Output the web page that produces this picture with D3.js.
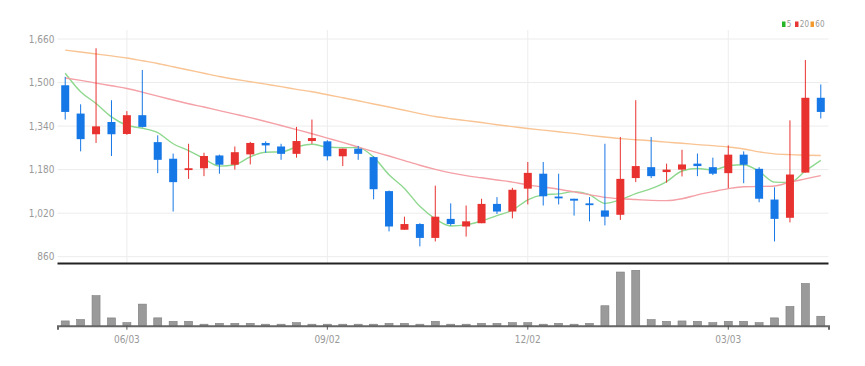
<!DOCTYPE html>
<html>
<head>
    <meta charset="utf-8">
    <title>Weekly Candles</title>
    <script src="https://d3js.org/d3.v7.min.js"></script>
    <style>
        body { margin: 0; background: #fff; }
        text { font-family: "Liberation Sans Narrow", "DejaVu Sans Condensed", sans-serif; }
    </style>
</head>
<body>
    <div id="chart"></div>
    <script>
        // weekly data, one row per week
        var dates = ["2024-05-06","2024-05-13","2024-05-20","2024-05-27","2024-06-03","2024-06-10","2024-06-17","2024-06-24","2024-07-01","2024-07-08",
                     "2024-07-15","2024-07-22","2024-07-29","2024-08-05","2024-08-12","2024-08-19","2024-08-26","2024-09-02","2024-09-09","2024-09-16",
                     "2024-09-23","2024-09-30","2024-10-07","2024-10-14","2024-10-21","2024-10-28","2024-11-04","2024-11-11","2024-11-18","2024-11-25",
                     "2024-12-02","2024-12-09","2024-12-16","2024-12-23","2024-12-30","2025-01-06","2025-01-13","2025-01-20","2025-01-27","2025-02-03",
                     "2025-02-10","2025-02-17","2025-02-24","2025-03-03","2025-03-10","2025-03-17","2025-03-24","2025-03-31","2025-04-07","2025-04-14"];
        var open  = [1490,1386,1310,1355,1311,1380,1281,1220,1181,1185,1232,1198,1236,1278,1265,1238,1285,1284,1229,1257,
                     1226,1101,959,980,929,999,971,983,1054,1026,1110,1165,1081,1073,1056,1030,1014,1149,1189,1171,
                     1180,1202,1189,1167,1235,1183,1070,1003,1169,1444];
        var high  = [1521,1420,1626,1435,1395,1546,1306,1239,1275,1242,1235,1265,1282,1284,1275,1337,1364,1288,1257,1267,
                     1229,1103,1007,983,1121,1056,1048,1073,1079,1113,1208,1208,1165,1073,1079,1275,1300,1435,1300,1202,
                     1253,1239,1224,1269,1247,1189,1115,1361,1583,1493];
        var low   = [1364,1247,1278,1230,1308,1335,1167,1026,1146,1156,1165,1180,1199,1242,1216,1224,1275,1214,1193,1216,
                     1071,953,959,898,916,974,934,983,1017,1001,1052,1048,1052,1011,990,975,995,1134,1149,1132,
                     1155,1156,1160,1112,1130,1060,916,986,1169,1368];
        var close = [1392,1292,1339,1310,1380,1337,1216,1134,1185,1230,1198,1244,1278,1269,1238,1285,1296,1229,1257,1238,
                     1108,971,980,929,1007,980,990,1054,1026,1106,1168,1082,1075,1066,1050,1007,1146,1193,1156,1180,
                     1199,1193,1165,1235,1198,1073,999,1162,1444,1392];
        var volume = [94200,121500,593800,153600,60400,426300,154900,86100,85700,20300,46200,45800,46500,20100,19800,60200,20400,19600,20200,20500,
                      19900,46100,45600,20300,86400,19700,20100,46300,45900,60300,59800,20200,46400,19800,45700,394100,1060200,1094300,120400,86200,
                      93800,86500,60100,85900,86300,59700,154200,380400,834100,186200];
        var ma5  = [1534,1466,1423,1374,1343,1332,1316,1275,1250,1220,1193,1198,1227,1244,1245,1263,1273,1263,1261,1261,
                    1226,1161,1111,1045,999,973,977,992,1011,1031,1069,1087,1091,1099,1088,1056,1069,1092,1110,1136,
                    1175,1184,1179,1194,1198,1173,1134,1133,1175,1214];
        var ma20 = [1517,1508,1498,1488,1478,1465,1450,1436,1422,1410,1397,1384,1371,1357,1342,1327,1312,1296,1280,1263,
                    1246,1230,1213,1196,1181,1168,1158,1150,1142,1134,1124,1116,1108,1098,1088,1078,1073,1070,1067,1066,
                    1073,1087,1099,1110,1117,1118,1120,1134,1146,1158];
        var ma60 = [1619,1612,1605,1598,1590,1580,1570,1558,1546,1534,1522,1512,1503,1494,1485,1475,1466,1455,1444,1433,
                    1421,1410,1398,1386,1375,1367,1360,1353,1345,1338,1331,1325,1319,1313,1306,1300,1294,1290,1286,1281,
                    1277,1272,1268,1263,1256,1245,1238,1235,1233,1232];
        var priceTicks = [860,1020,1180,1340,1500,1660];
        var dateTicks = ["2024-06-03","2024-09-02","2024-12-02","2025-03-03"];
        var dateTickLabels = ["06/03","09/02","12/02","03/03"];
        var maNames = ["5","20","60"];

        var width = 865, height = 366;
        var left = 57.5, right = 828.5;
        var upColor = "#e8322f", downColor = "#1677e6";
        var maColors = ["#8fd88f", "#f4a0a6", "#f9c494"];
        var legendColors = ["#26b526", "#e83535", "#f29a2e"];

        var svg = d3.select("#chart")
            .append("svg")
            .attr("width", width)
            .attr("height", height);

        var x = d3.scaleBand()
            .domain(dates)
            .range([left, right]);
        function cx(d) { return x(d) + x.bandwidth() / 2; }

        var y = d3.scaleLinear()
            .domain([860, 1660])
            .range([256.7, 39]);

        var yVol = d3.scaleLinear()
            .domain([0, 1140000])
            .range([325.7, 268]);

        // grid
        svg.append("g").selectAll("line")
            .data(priceTicks)
            .enter()
            .append("line")
            .attr("x1", left).attr("x2", right)
            .attr("y1", function(d) { return y(d); })
            .attr("y2", function(d) { return y(d); })
            .attr("stroke", "#ececec");

        svg.append("g").selectAll("line")
            .data(dateTicks)
            .enter()
            .append("line")
            .attr("x1", function(d) { return cx(d); })
            .attr("x2", function(d) { return cx(d); })
            .attr("y1", 30).attr("y2", 263)
            .attr("stroke", "#ededed");

        // y axis labels
        var yAxis = d3.axisLeft(y).tickValues(priceTicks).tickSize(0).tickPadding(3).tickFormat(d3.format(","));
        svg.append("g")
            .attr("transform", "translate(" + left + ",0)")
            .call(yAxis)
            .call(function(g) { g.select(".domain").remove(); })
            .selectAll("text")
            .attr("fill", "#999")
            .style("font-size", "10px");

        // moving averages
        [ma5, ma20, ma60].forEach(function(series, k) {
            var line = d3.line()
                .x(function(d, i) { return cx(dates[i]); })
                .y(function(d) { return y(d); })
                .curve(d3.curveMonotoneX);
            svg.append("path")
                .datum(series)
                .attr("d", line)
                .attr("fill", "none")
                .attr("stroke", maColors[k])
                .attr("stroke-width", 1.4);
        });

        // candles
        var candles = svg.append("g").selectAll("g")
            .data(dates)
            .enter()
            .append("g");

        function colorOf(i) { return close[i] >= open[i] ? upColor : downColor; }

        candles.append("line")
            .attr("x1", function(d) { return cx(d); })
            .attr("x2", function(d) { return cx(d); })
            .attr("y1", function(d, i) { return y(high[i]); })
            .attr("y2", function(d, i) { return y(low[i]); })
            .attr("stroke", function(d, i) { return colorOf(i); })
            .attr("stroke-width", 1);

        candles.append("rect")
            .attr("x", function(d) { return cx(d) - 4; })
            .attr("width", 8)
            .attr("y", function(d, i) { return y(Math.max(open[i], close[i])); })
            .attr("height", function(d, i) { return Math.max(1.8, Math.abs(y(open[i]) - y(close[i]))); })
            .attr("fill", function(d, i) { return colorOf(i); });

        // panel separator
        svg.append("line")
            .attr("x1", left).attr("x2", right)
            .attr("y1", 263.5).attr("y2", 263.5)
            .attr("stroke", "#222")
            .attr("stroke-width", 2);

        // volume bars
        svg.append("g").selectAll("rect")
            .data(volume)
            .enter()
            .append("rect")
            .attr("x", function(d, i) { return cx(dates[i]) - 4; })
            .attr("width", 8)
            .attr("y", function(d) { return Math.min(yVol(d), yVol(0) - 1.5); })
            .attr("height", function(d) { return Math.max(1.5, yVol(0) - yVol(d)); })
            .attr("fill", "#9a9a9a")
            .attr("stroke", "#7c7c7c")
            .attr("stroke-width", 0.6);

        // x axis under volume
        var xAxis = d3.axisBottom(x)
            .tickValues(dateTicks)
            .tickSize(4)
            .tickPadding(6)
            .tickFormat(function(d) { return dateTickLabels[dateTicks.indexOf(d)]; });
        var xg = svg.append("g")
            .attr("transform", "translate(0," + yVol(0) + ")")
            .call(xAxis);
        xg.select(".domain").attr("stroke", "#666").attr("stroke-width", 2);
        xg.selectAll(".tick line").attr("stroke", "#555");
        xg.selectAll("text").attr("fill", "#999").style("font-size", "10px");

        // legend
        var legend = svg.append("g").attr("transform", "translate(782,21.5)");
        var offsets = [0, 13, 28.5];
        maNames.forEach(function(name, k) {
            legend.append("rect")
                .attr("x", offsets[k]).attr("y", 0)
                .attr("width", 3.5).attr("height", 5.5)
                .attr("fill", legendColors[k]);
            legend.append("text")
                .attr("x", offsets[k] + 4.8).attr("y", 5.5)
                .attr("fill", "#999")
                .style("font-size", "8px")
                .text(name);
        });
    </script>
</body>
</html>
